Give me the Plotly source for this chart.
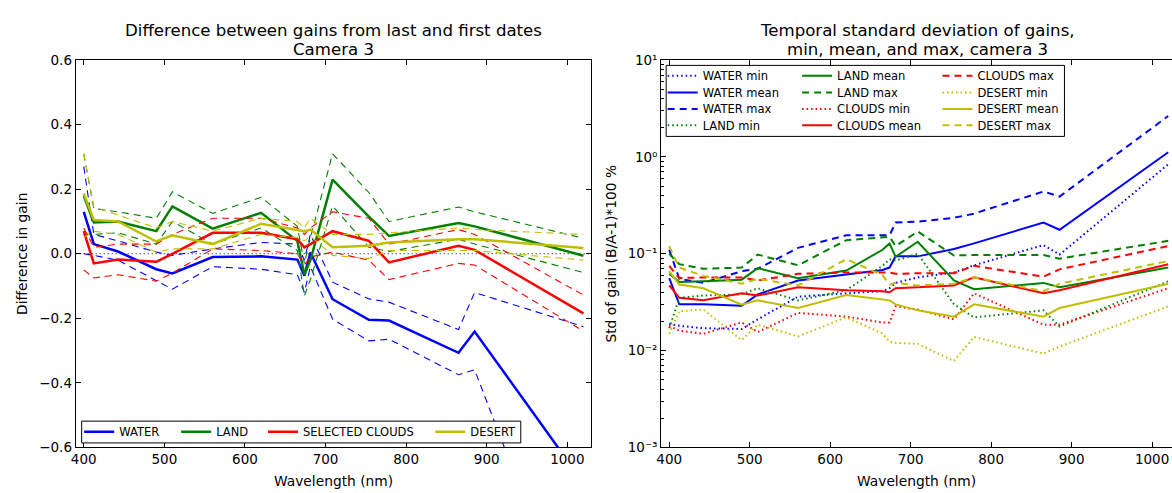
import plotly.graph_objects as go

W_PX, H_PX = 1172, 493

# ---------------- data ----------------
wavelengths = [400, 412.5, 442.5, 490, 510, 560, 620, 665, 673.75, 681.25, 708.75, 753.75, 778.75, 865, 885, 1020]

# left panel: difference in gain (last - first)
water_mean = [0.13, 0.03, 0.007, -0.048, -0.061, -0.01, -0.008, -0.018, -0.068, 0.004, -0.141, -0.205, -0.207, -0.307, -0.241, -0.71]
water_max = [0.27, 0.06, 0.04, 0.005, -0.005, 0.015, 0.035, 0.03, -0.02, 0.06, -0.088, -0.14, -0.15, -0.235, -0.12, -0.226]
water_min = [0.0, -0.005, -0.02, -0.085, -0.11, -0.04, -0.048, -0.065, -0.12, -0.04, -0.203, -0.27, -0.265, -0.375, -0.36, -1.24]
land_mean = [0.18, 0.097, 0.1, 0.07, 0.147, 0.078, 0.127, 0.04, -0.065, -0.02, 0.23, 0.115, 0.055, 0.095, 0.085, -0.006]
land_max = [0.31, 0.14, 0.13, 0.11, 0.192, 0.125, 0.175, 0.085, -0.03, 0.05, 0.31, 0.19, 0.1, 0.145, 0.13, 0.048]
land_min = [0.06, 0.06, 0.065, 0.03, 0.1, 0.03, 0.08, 0.01, -0.13, -0.08, 0.148, 0.02, 0.007, 0.045, 0.03, -0.058]
clouds_mean = [0.07, -0.03, -0.018, -0.025, 0.0, 0.065, 0.065, 0.045, 0.02, 0.03, 0.07, 0.04, -0.027, 0.025, 0.012, -0.185]
clouds_max = [0.08, 0.02, 0.03, 0.03, 0.06, 0.11, 0.11, 0.08, 0.06, 0.08, 0.13, 0.11, 0.03, 0.075, 0.06, -0.128]
clouds_min = [-0.05, -0.075, -0.065, -0.085, -0.06, 0.015, 0.01, 0.0, -0.035, -0.01, 0.005, -0.02, -0.08, -0.03, -0.035, -0.24]
desert_mean = [0.187, 0.105, 0.1, 0.038, 0.057, 0.03, 0.093, 0.075, 0.07, 0.075, 0.02, 0.025, 0.035, 0.045, 0.045, 0.018]
desert_max = [0.31, 0.145, 0.12, 0.08, 0.1, 0.07, 0.11, 0.1, 0.08, 0.11, 0.06, 0.06, 0.065, 0.08, 0.075, 0.06]
desert_min = [0.05, 0.07, 0.06, 0.005, 0.015, 0.015, 0.06, 0.05, 0.04, 0.055, -0.005, -0.015, 0.01, 0.01, 0.01, -0.02]

# right panel: temporal std of gains (%)
water_min_s = [0.0188, 0.018, 0.017, 0.0167, 0.021, 0.036, 0.039, 0.041, 0.044, 0.05, 0.057, 0.064, 0.076, 0.123, 0.098, 0.84]
water_mean_s = [0.056, 0.030, 0.030, 0.029, 0.038, 0.053, 0.061, 0.068, 0.072, 0.094, 0.094, 0.112, 0.128, 0.21, 0.177, 1.12]
water_max_s = [0.11, 0.055, 0.05, 0.066, 0.07, 0.115, 0.155, 0.155, 0.155, 0.21, 0.215, 0.235, 0.26, 0.44, 0.39, 2.65]
land_min_s = [0.017, 0.035, 0.037, 0.038, 0.044, 0.033, 0.042, 0.075, 0.088, 0.085, 0.10, 0.03, 0.022, 0.026, 0.0177, 0.052]
land_mean_s = [0.062, 0.051, 0.052, 0.054, 0.071, 0.056, 0.067, 0.11, 0.128, 0.093, 0.133, 0.053, 0.043, 0.050, 0.045, 0.072]
land_max_s = [0.1, 0.078, 0.07, 0.072, 0.098, 0.076, 0.138, 0.149, 0.15, 0.12, 0.17, 0.096, 0.097, 0.097, 0.089, 0.136]
clouds_min_s = [0.018, 0.016, 0.0149, 0.0195, 0.0155, 0.0245, 0.0224, 0.0195, 0.0195, 0.0286, 0.0265, 0.021, 0.039, 0.0185, 0.0185, 0.044]
clouds_mean_s = [0.047, 0.035, 0.033, 0.039, 0.037, 0.045, 0.042, 0.041, 0.040, 0.044, 0.045, 0.047, 0.057, 0.039, 0.042, 0.078]
clouds_max_s = [0.075, 0.056, 0.057, 0.057, 0.053, 0.062, 0.064, 0.064, 0.064, 0.062, 0.063, 0.063, 0.075, 0.058, 0.069, 0.12]
desert_min_s = [0.0149, 0.0255, 0.0265, 0.0128, 0.0185, 0.014, 0.022, 0.015, 0.0123, 0.012, 0.0117, 0.0078, 0.0138, 0.0093, 0.011, 0.0286]
desert_mean_s = [0.066, 0.048, 0.044, 0.0297, 0.033, 0.0275, 0.0375, 0.034, 0.033, 0.03, 0.026, 0.0224, 0.030, 0.0224, 0.0275, 0.049]
desert_max_s = [0.12, 0.072, 0.059, 0.049, 0.055, 0.047, 0.088, 0.06, 0.048, 0.05, 0.047, 0.049, 0.057, 0.041, 0.049, 0.084]

x_ticks = [400, 500, 600, 700, 800, 900, 1000]
y_ticks_left = [-0.6, -0.4, -0.2, 0.0, 0.2, 0.4, 0.6]
y_ticktext_left = ["\u22120.6", "\u22120.4", "\u22120.2", "0.0", "0.2", "0.4", "0.6"]
y_ticks_right = [1e-3, 1e-2, 1e-1, 1e0, 1e1]
y_ticktext_right = ["10\u207b\u00b3", "10\u207b\u00b2", "10\u207b\u00b9", "10\u2070", "10\u00b9"]
minor_right = [m * 10.0 ** e for e in (-3, -2, -1, 0) for m in range(2, 10)]

COL = {"WATER": "#0000ff", "LAND": "#008000", "CLOUDS": "#ff0000", "DESERT": "#bfbf00"}
FONT = "DejaVu Sans"


def px_x(p):
    return p / W_PX


def px_y(p):
    return 1 - p / H_PX


fig = go.Figure()

# ---------------- left panel ----------------
left_sets = [
    ("WATER", "WATER", water_mean, water_min, water_max),
    ("LAND", "LAND", land_mean, land_min, land_max),
    ("CLOUDS", "SELECTED CLOUDS", clouds_mean, clouds_min, clouds_max),
    ("DESERT", "DESERT", desert_mean, desert_min, desert_max),
]
for i, (key, label, mean, lo, hi) in enumerate(left_sets):
    c = COL[key]
    leg = "legend" if i == 0 else f"legend{i + 1}"
    for arr in (lo, hi):
        fig.add_trace(go.Scatter(x=wavelengths, y=arr, mode="lines", xaxis="x", yaxis="y",
                                 line=dict(color=c, width=1.1, dash="7px,5px"),
                                 showlegend=False, hoverinfo="skip"))
    fig.add_trace(go.Scatter(x=wavelengths, y=mean, mode="lines", name=label, xaxis="x", yaxis="y",
                             line=dict(color=c, width=2.5), legend=leg))

# ---------------- right panel ----------------
right_sets = [
    ("WATER", water_min_s, water_mean_s, water_max_s),
    ("LAND", land_min_s, land_mean_s, land_max_s),
    ("CLOUDS", clouds_min_s, clouds_mean_s, clouds_max_s),
    ("DESERT", desert_min_s, desert_mean_s, desert_max_s),
]
styles = [("min", "1.5px,3px"), ("mean", "solid"), ("max", "7px,5px")]
k = 5
for key, mn, me, mx in right_sets:
    for (suffix, dash), arr in zip(styles, (mn, me, mx)):
        fig.add_trace(go.Scatter(x=wavelengths, y=arr, mode="lines", name=f"{key} {suffix}",
                                 xaxis="x2", yaxis="y2",
                                 line=dict(color=COL[key], width=2, dash=dash),
                                 legend=f"legend{k}"))
        k += 1

# ---------------- legends ----------------
leg_common = dict(xanchor="left", yanchor="middle", bgcolor="rgba(0,0,0,0)", borderwidth=0,
                  font=dict(family=FONT, size=11.5, color="black"), orientation="v",
                  itemwidth=30, tracegroupgap=0)
legends = {}
left_text_x = [115, 212.4, 299.6, 467.6]
left_row_y = 438
for i, tx in enumerate(left_text_x):
    name = "legend" if i == 0 else f"legend{i + 1}"
    legends[name] = dict(leg_common, x=px_x(tx - 40.5), y=px_y(left_row_y))

right_text_x = [701, 836, 977]
right_row_y = [70, 87.3, 104.3, 121.3]
for j in range(12):
    col, row = divmod(j, 4)
    legends[f"legend{5 + j}"] = dict(leg_common, x=px_x(right_text_x[col] - 40.5), y=px_y(right_row_y[row]))

# ---------------- axes ----------------
ax_common = dict(showline=True, linecolor="black", linewidth=1, ticks="inside", ticklen=5, tickwidth=1,
                 tickcolor="black", showgrid=False, zeroline=False,
                 tickfont=dict(family=FONT, size=13.5, color="black"))
ydom = [px_y(454), px_y(54)]

fig.update_layout(
    width=W_PX, height=H_PX, autosize=False,
    margin=dict(l=0, r=0, t=0, b=0),
    paper_bgcolor="white", plot_bgcolor="white",
    font=dict(family=FONT, color="black"),
    xaxis=dict(ax_common, domain=[px_x(71), px_x(589)], range=[390, 1030], tickvals=x_ticks,
               mirror="ticks", anchor="y",
               title=dict(text="Wavelength (nm)", font=dict(family=FONT, size=13.8), standoff=9)),
    yaxis=dict(ax_common, domain=ydom, range=[-0.6, 0.6], tickvals=y_ticks_left, ticktext=y_ticktext_left,
               mirror="ticks", anchor="x",
               title=dict(text="Difference in gain", font=dict(family=FONT, size=13.8), standoff=8)),
    xaxis2=dict(ax_common, domain=[px_x(659), 1.0], range=[390, 1024.7], tickvals=x_ticks,
                mirror="ticks", anchor="y2",
                title=dict(text="Wavelength (nm)", font=dict(family=FONT, size=13.8), standoff=9)),
    yaxis2=dict(ax_common, domain=ydom, type="log", range=[-3, 1], tickvals=y_ticks_right,
                ticktext=y_ticktext_right, mirror=False, anchor="x2",
                minor=dict(tickvals=minor_right, ticks="inside", ticklen=2.5, tickwidth=1,
                           tickcolor="black", showgrid=False),
                title=dict(text="Std of gain (B/A-1)*100 %", font=dict(family=FONT, size=13.8), standoff=7)),
    **legends,
)

# zero reference line (left)
fig.add_shape(type="line", xref="x domain", yref="y", x0=0, x1=1, y0=0, y1=0,
              line=dict(color="black", width=1, dash="1px,3px"), layer="below")

# legend frames
fig.add_shape(type="rect", xref="paper", yref="paper", x0=px_x(77), x1=px_x(518),
              y0=px_y(449.5), y1=px_y(427), line=dict(color="black", width=1),
              fillcolor="white", layer="above")
fig.add_shape(type="rect", xref="paper", yref="paper", x0=px_x(664), x1=px_x(1064),
              y0=px_y(132.7), y1=px_y(59.3), line=dict(color="black", width=1),
              fillcolor="white", layer="above")

# titles
titles = [
    (330, 23, "Difference between gains from last and first dates"),
    (330, 43, "Camera 3"),
    (916, 23, "Temporal standard deviation of gains,"),
    (916, 43, "min, mean, and max, camera 3"),
]
for tx, ty, txt in titles:
    fig.add_annotation(x=px_x(tx), y=px_y(ty), xref="paper", yref="paper", text=txt, showarrow=False,
                       xanchor="center", yanchor="middle", font=dict(family=FONT, size=16.6, color="black"))

fig.write_html("out.html")
